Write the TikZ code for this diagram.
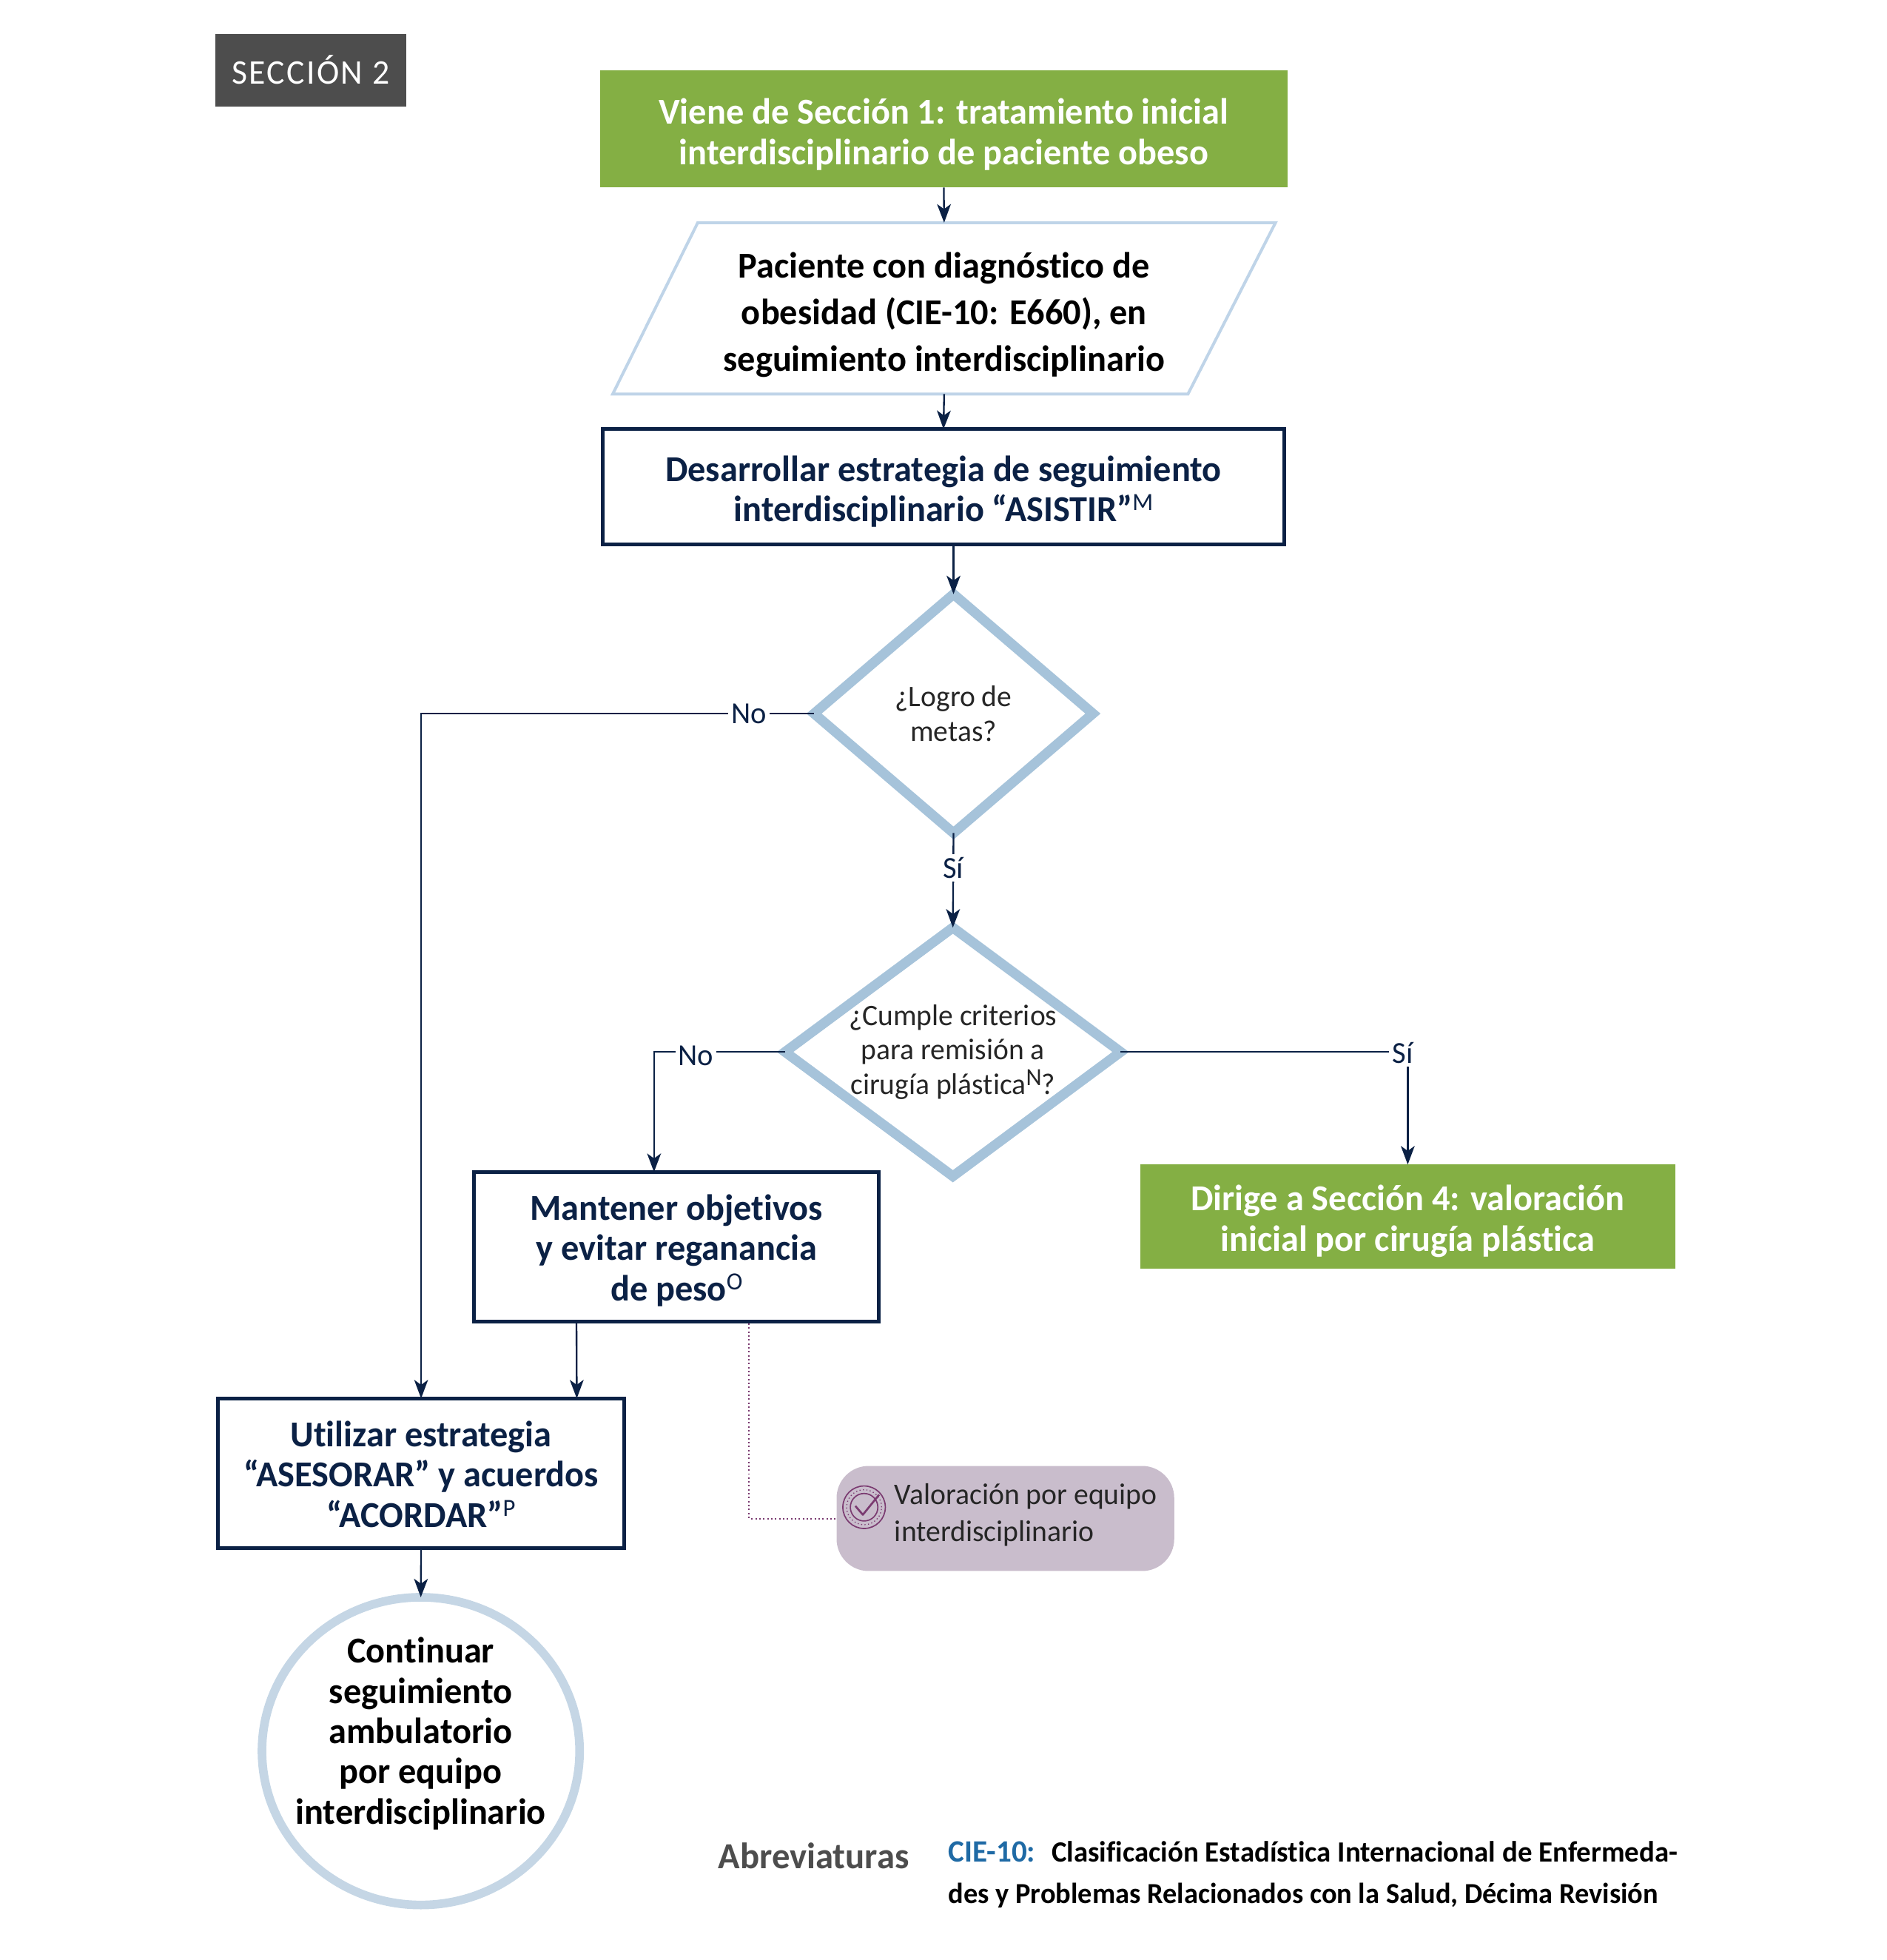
\documentclass[tikz,border=0pt]{standalone}
\usepackage{fontspec}
\setmainfont[Ligatures=NoCommon,FakeStretch=0.98]{Carlito}
\usetikzlibrary{arrows.meta,shapes.geometric,calc}
\definecolor{navy}{HTML}{0B2145}
\definecolor{leaf}{HTML}{84AF44}
\definecolor{slate}{HTML}{4D4D4D}
\definecolor{paleblue}{HTML}{BFD4E8}
\definecolor{midblue}{HTML}{A6C3DA}
\definecolor{ringblue}{HTML}{C5D6E5}
\definecolor{mauve}{HTML}{C9BDCC}
\definecolor{plum}{HTML}{7A3A70}
\definecolor{ciblue}{HTML}{1F6AA5}
\def\ux{0.50709pt}
\newcommand\dn[1]{\rule{0pt}{#1pt}}
\newcommand\supr[1]{\raisebox{0.62ex}{\fontsize{10}{10}\selectfont\mdseries #1}}
\tikzset{
 x=\ux,y=-\ux,
 link/.style={draw=navy,line width=0.7pt,-{Stealth[length=7.5pt,width=5.6pt,inset=2pt]}},
 boxbase/.style={rectangle,inner sep=0pt,outer sep=0pt,align=center,anchor=north west},
 greenbox/.style={boxbase,fill=leaf,text=white,font=\fontsize{14.8}{16.3}\selectfont\bfseries},
 navybox/.style={boxbase,draw=navy,line width=1.5pt,fill=white,text=navy,font=\fontsize{14.8}{16.3}\selectfont\bfseries},
 decision/.style={diamond,draw=midblue,line width=4pt,fill=white,inner sep=0pt,outer sep=0pt,align=center,aspect=1.18,font=\fontsize{12.1}{13.9}\selectfont,text=black!85},
 lbl/.style={fill=white,inner sep=1.2pt,text=navy,font=\fontsize{12.4}{14}\selectfont},
}
\begin{document}
\begin{tikzpicture}
\useasboundingbox (0,0) rectangle (1509,1567);
% section tag
\node[boxbase,fill=slate,text=white,minimum width=153*\ux,minimum height=58*\ux,font=\fontsize{14}{15}\selectfont\addfontfeature{LetterSpace=5},anchor=center] (tag) at (248.5,56) {SECCIÓN 2};
% boxes
\node[greenbox,minimum width=549.5*\ux,minimum height=94*\ux] (start) at (480,56) {\dn{14.9}Viene de Sección 1: tratamiento inicial\\interdisciplinario de paciente obeso};
\draw[paleblue,line width=1.2pt] (558,178) -- (1020,178) -- (950,315) -- (490,315) -- cycle;
\node[boxbase,minimum width=530*\ux,minimum height=137*\ux,text=black,font=\fontsize{14.8}{18.9}\selectfont\bfseries] (pac) at (490,178) {\dn{15.4}Paciente con diagnóstico de\\obesidad (CIE-10: E660), en\\seguimiento interdisciplinario};
\node[navybox,minimum width=545*\ux,minimum height=92.5*\ux] (plan) at (482,343) {\dn{14.2}Desarrollar estrategia de seguimiento\\interdisciplinario “ASISTIR”\supr{M}};
\node[decision,minimum width=223*\ux,minimum height=191*\ux] (logro) at (762.5,570.5) {¿Logro de\\metas?};
\node[decision,minimum width=263*\ux,minimum height=192*\ux,aspect=1.35] (cumple) at (762,841) {¿Cumple criterios\\para remisión a\\cirugía plástica\supr{N}?};
\node[greenbox,minimum width=427.5*\ux,minimum height=83*\ux] (dirige) at (912,931) {\dn{14.2}Dirige a Sección 4: valoración\\inicial por cirugía plástica};
\node[navybox,minimum width=324*\ux,minimum height=119.5*\ux] (mant) at (379,937) {\dn{13.4}Mantener objetivos\\y evitar reganancia\\de peso\supr{O}};
\node[navybox,minimum width=324.5*\ux,minimum height=119.5*\ux] (util) at (174.5,1118) {\dn{11.3}Utilizar estrategia\\“ASESORAR” y acuerdos\\“ACORDAR”\supr{P}};
\node[ellipse,draw=ringblue,line width=3.5pt,minimum width=254*\ux,minimum height=246*\ux,inner sep=0pt,outer sep=0pt] (cont) at (336.5,1400) {};
\node[inner sep=0pt,align=center,text=black,font=\fontsize{14.8}{16.3}\selectfont\bfseries] (conttxt) at (336.5,1386) {Continuar\\seguimiento\\ambulatorio\\por equipo\\interdisciplinario};
\node[boxbase,fill=mauve,rounded corners=13pt,minimum width=270*\ux,minimum height=84*\ux] (val) at (669,1172) {};
\node[anchor=north west,inner sep=0pt,align=left,text=black!85,font=\fontsize{12.15}{15}\selectfont] (valtxt) at (715,1185.5) {Valoración por equipo\\interdisciplinario};
% icon
\node[circle,draw=plum,line width=0.5pt,minimum size=34*\ux,inner sep=0pt] (ico) at (691,1205) {};
\node[circle,draw=plum,line width=0.4pt,densely dotted,minimum size=28*\ux,inner sep=0pt] (ico2) at (691,1205) {};
\node[circle,draw=plum,line width=0.5pt,minimum size=22*\ux,inner sep=0pt] (ico3) at (691,1205) {};
\draw[plum,line width=0.8pt,line join=round] (684,1204) -- (690,1211) -- (703,1195);
% connectors
\draw[link] (start.south) -- (pac.north);
\draw[link] (pac.south) -- (plan.north);
\draw[link] (logro.north |- plan.south) -- (logro.north);
\draw[link] (logro.west) -| node[lbl,pos=0.083] (n1) {No} (util.north);
\draw[link] (logro.south) -- node[lbl,pos=0.37] (s1) {Sí} (cumple.north);
\draw[link] (cumple.west) -| node[lbl,pos=0.34,yshift=-1.5pt] (n2) {No} ([xshift=-18*\ux]mant.north);
\draw[link] (cumple.east) -| node[lbl,pos=0.491,yshift=-0.5pt] (s2) {Sí} (dirige.north);
\draw[link] ([xshift=-80*\ux]mant.south) -- ([xshift=124.5*\ux]util.north);
\draw[link] (util.south) -- (cont.north);
\draw[plum,line width=0.6pt,densely dotted] (599,1058) |- (val.west);
% abbreviations
\node[anchor=base west,inner sep=0pt,text=slate,font=\fontsize{14.9}{17}\selectfont\bfseries] (abv) at (574,1494) {Abreviaturas};
\node[anchor=north west,inner sep=0pt,align=left,font=\fontsize{11.9}{16.8}\selectfont\bfseries] (cie) at (758,1472) {\textcolor{ciblue}{\fontsize{12.6}{16.8}\selectfont CIE-10:}\hspace{0.55em}Clasificación Estadística Internacional de Enfermeda-\\{\fontsize{11.76}{16.8}\selectfont des y Problemas Relacionados con la Salud, Décima Revisión}};
\end{tikzpicture}
\end{document}
